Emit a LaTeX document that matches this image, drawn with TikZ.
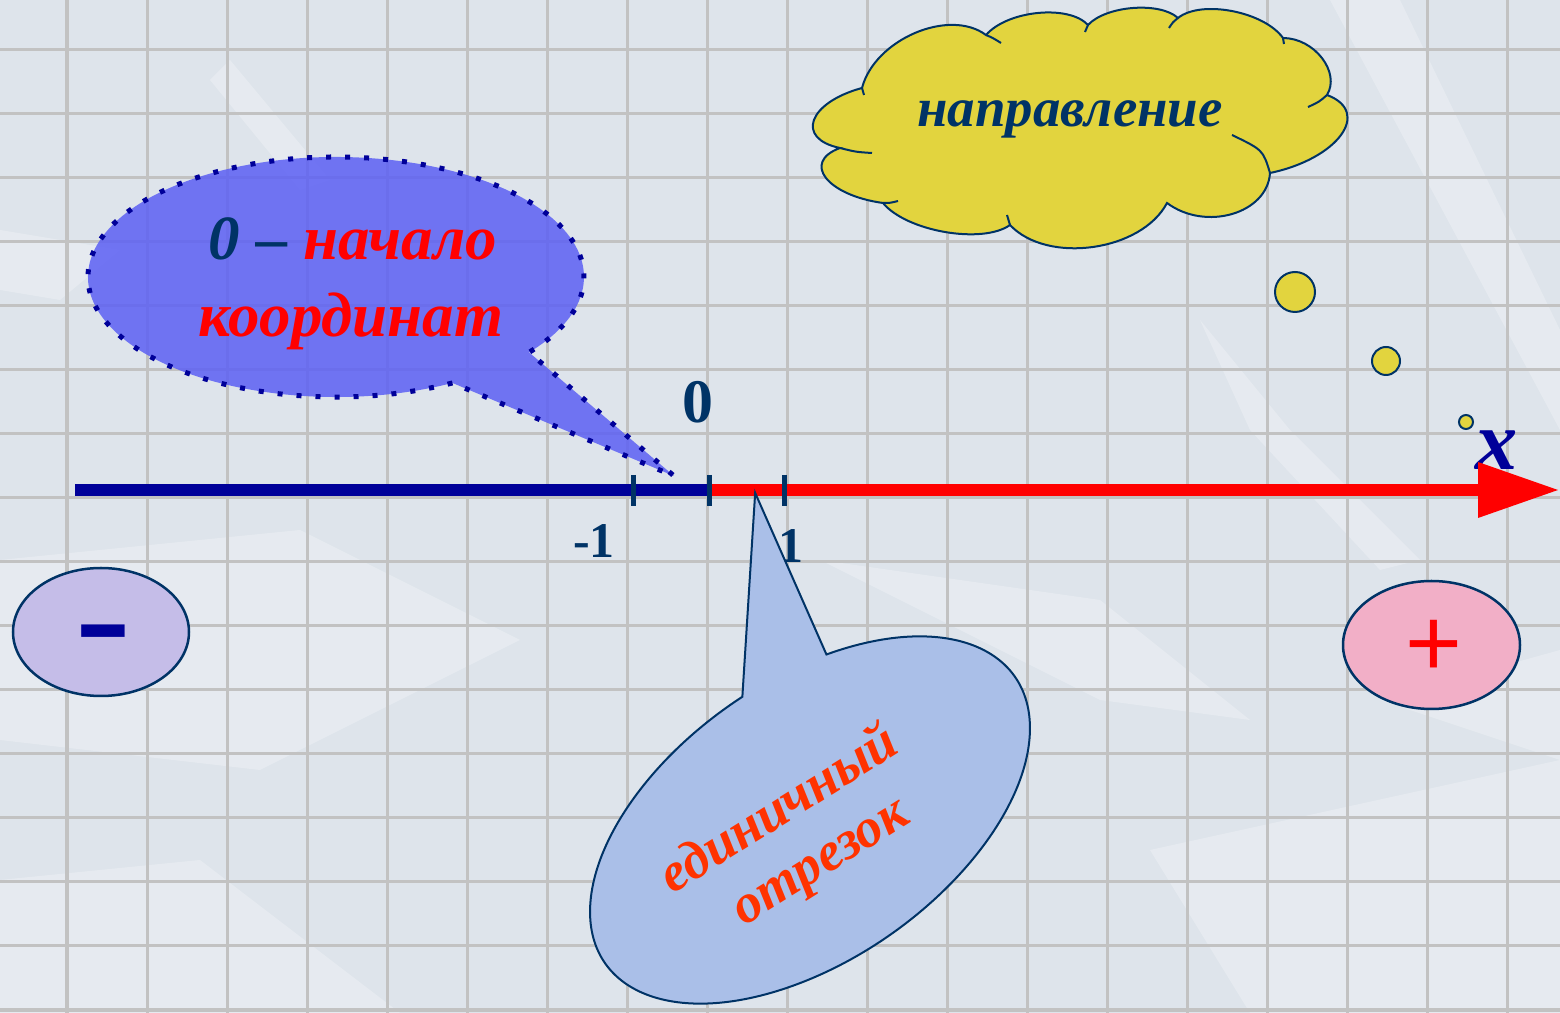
\documentclass[tikz,border=0pt]{standalone}
\usepackage{fontspec}
\setmainfont{Liberation Serif}
\newfontfamily\sansf{Liberation Sans}
\definecolor{navy}{HTML}{003366}
\definecolor{axblue}{HTML}{000099}
\definecolor{bgc}{HTML}{DEE4EB}
\definecolor{gridc}{HTML}{C2C2C2}
\definecolor{bubA}{HTML}{5C60F4}
\definecolor{bubB}{HTML}{AABFE8}
\definecolor{cloudc}{HTML}{E2D43E}
\definecolor{lav}{HTML}{C5BDE8}
\definecolor{pinkc}{HTML}{F2AFC7}
\definecolor{orred}{HTML}{FF3300}
\newcommand\fsz[1]{\fontsize{#1}{#1}\selectfont}
\tikzset{
  gridline/.style={draw=gridc, line width=0.03cm},
  tickmark/.style={draw=navy, line width=0.05cm},
  lbl/.style={inner sep=0pt, anchor=base},
  numlbl/.style={lbl, text=navy, font=\bfseries\fsz{14.2pt}},
  bubbleA/.style={fill=bubA, fill opacity=0.85, draw=axblue, line width=0.05cm, dash pattern=on 0.05cm off 0.14cm},
  bubbleB/.style={fill=bubB, draw=navy, line width=0.02cm},
  signell/.style={draw=navy, line width=0.025cm},
  cloudline/.style={draw=navy, line width=0.02cm},
  thought/.style={fill=cloudc, draw=navy, line width=0.02cm},
  texture/.style={fill=white, fill opacity=0.25, draw=none}
}
\begin{document}
\begin{tikzpicture}[x=0.01cm,y=-0.01cm]
\fill[bgc] (0,0) rectangle (1560,1013);
\useasboundingbox (0,0) rectangle (1560,1013);
% crumpled paper texture
\fill[texture] (0,560) -- (300,530) -- (520,640) -- (260,770) -- (0,740) -- cycle;
\fill[texture] (0,230) -- (120,250) -- (60,300) -- (0,290) -- cycle;
\fill[texture] (1330,0) -- (1400,0) -- (1560,330) -- (1560,430) -- cycle;
\fill[texture] (1200,320) -- (1290,430) -- (1420,560) -- (1380,570) -- (1250,430) -- cycle;
\fill[texture] (230,60) -- (330,180) -- (300,190) -- (210,80) -- cycle;
\fill[texture] (820,560) -- (1100,600) -- (1250,720) -- (1100,700) -- cycle;
\fill[texture] (1150,850) -- (1560,760) -- (1560,1013) -- (1250,1013) -- cycle;
\fill[texture] (0,880) -- (200,860) -- (400,1013) -- (0,1013) -- cycle;
\fill[texture] (1380,700) -- (1560,650) -- (1560,760) -- cycle;
% grid
\foreach \x in {67,147,...,1547} \draw[gridline] (\x,0) -- (\x,1013);
\foreach \y in {50,114,...,1010} \draw[gridline] (0,\y) -- (1560,\y);

% x label (behind the arrow)
\node[lbl, text=axblue, font=\bfseries\itshape\fsz{24pt}] (xl) at (1497,470) {x};

% axis
\coordinate (axL) at (75,490);
\coordinate (axO) at (710,490);
\coordinate (axR) at (1482,490);
\draw[axblue, line width=0.12cm] (axL) -- (axO);
\draw[red, line width=0.12cm] (axO) -- (axR);
\fill[red] (1478,462) -- (1558,490) -- (1478,518) -- cycle;

% ticks
\coordinate (tm1) at (633,490);
\coordinate (t0) at (709,490);
\coordinate (t1) at (784,490);
\foreach \t in {tm1,t0,t1} \draw[tickmark] ([yshift=0.15cm]\t) -- ([yshift=-0.16cm]\t);

\node[numlbl, font=\bfseries\fsz{17.6pt}] (n0) at (698,423) {0};
\node[numlbl] (nm1) at (594,558) {-1};
\node[numlbl] (n1) at (791,563) {1};

% bubble "0 - начало координат"
\path[bubbleA] (336,277) ++(62:248 and 120) arc[start angle=62, end angle=398.9, x radius=248, y radius=120] -- (674,476) -- cycle;
\node[lbl, font=\bfseries\itshape\fsz{17.9pt}] (tA1) at (353,260) {\textcolor{navy}{0 –} \textcolor{red}{начало}};
\node[lbl, text=red, font=\bfseries\itshape\fsz{17.9pt}] (tA2) at (351,337) {координат};

% cloud "направление"
\path[fill=cloudc, cloudline] (840,148)
  .. controls (795.0,138.6) and (808.2,102.6) .. (862,88)
  .. controls (874.7,39.4) and (949.1,7.6) .. (986,35)
  .. controls (1007.6,10.3) and (1068.8,4.3) .. (1088,25)
  .. controls (1105.9,5.6) and (1159.9,1.4) .. (1178,18)
  .. controls (1200.9,-0.6) and (1263.9,11.4) .. (1283,38)
  .. controls (1314.4,38.1) and (1340.8,72.3) .. (1327,95)
  .. controls (1372.2,112.0) and (1338.0,158.8) .. (1270,173)
  .. controls (1267.4,213.7) and (1205.6,231.7) .. (1167,203)
  .. controls (1141.5,251.4) and (1047.3,264.6) .. (1010,225)
  .. controls (982.5,244.6) and (906.3,231.4) .. (883,203)
  .. controls (827.0,195.3) and (801.2,162.3) .. (840,148) -- cycle;
% inner arcs of the cloud
\draw[cloudline] (986,35) .. controls (993,38) .. (1001,43);
\draw[cloudline] (1088,25) .. controls (1086,28) .. (1085,32);
\draw[cloudline] (1178,18) .. controls (1173,22) .. (1169,28);
\draw[cloudline] (1283,38) -- (1284,44);
\draw[cloudline] (1327,95) .. controls (1319,102) .. (1308,107);
\draw[cloudline] (1270,173) .. controls (1263,150) .. (1232,135);
\draw[cloudline] (1010,225) .. controls (1008,220) .. (1007,215);
\draw[cloudline] (883,203) .. controls (890,203) .. (898,201);
\draw[cloudline] (840,148) .. controls (856,152) .. (872,153);
\draw[cloudline] (862,88) -- (864,95);
\node[lbl, text=navy, font=\bfseries\itshape\fsz{15.6pt}] (tC) at (1070,127) {направление};
\draw[thought] (1295,292) circle[radius=20];
\draw[thought] (1386,361) circle[radius=14];
\draw[thought] (1466,422) circle[radius=7];

% sign ellipses
\draw[signell, fill=lav] (101,632) ellipse[x radius=88, y radius=64];
\node[lbl, text=axblue, font=\fsz{47.5pt}] (minus) at (103,671) {-};
\draw[signell, fill=pinkc] (1431.5,645) ellipse[x radius=88.5, y radius=64];
\node[lbl, text=red, font=\sansf\fsz{27.7pt}] (plus) at (1434,677) {+};

% bubble "единичный отрезок"
\begin{scope}[shift={(810,820)}, rotate=35]
  \path[bubbleB] (-64.3:250 and 140) arc[start angle=-64.3, end angle=273.5, x radius=250, y radius=140] -- (142.7,-299.4) -- cycle;
\end{scope}
\node[lbl, rotate=32, text=orred, font=\bfseries\itshape\fsz{15.6pt}] (tB1) at (787,823) {единичный};
\node[lbl, rotate=32, text=orred, font=\bfseries\itshape\fsz{15.6pt}] (tB2) at (828,874) {отрезок};
\end{tikzpicture}
\end{document}
